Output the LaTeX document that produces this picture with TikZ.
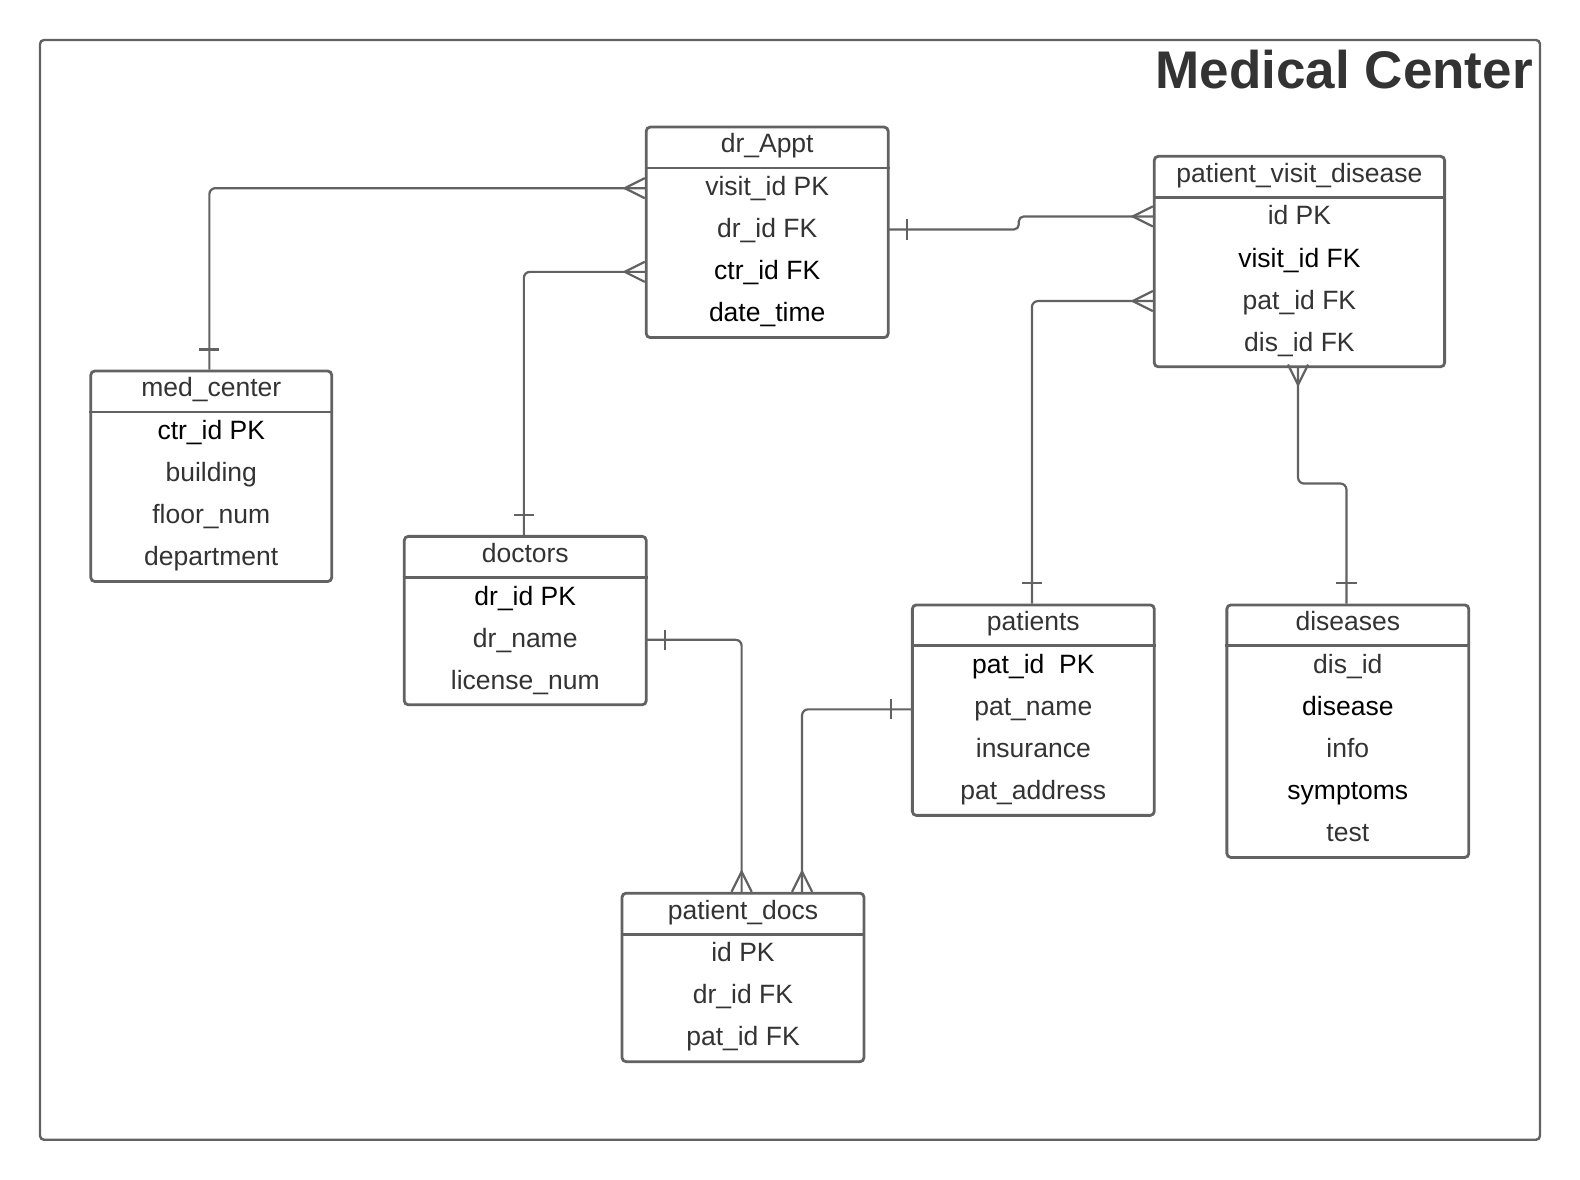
\documentclass[tikz,border=0pt]{standalone}
\usepackage{fontspec}
\setmainfont{Liberation Sans}
\usetikzlibrary{calc}
\definecolor{lg}{HTML}{626262}
\definecolor{tx}{HTML}{333333}
\newcommand\U{1.00806}
\tikzset{
  tbl/.style={draw=lg, line width=2.8bp, rounded corners=4bp, inner sep=0pt, fill=white},
  tblline/.style={draw=lg, line width=2.8bp},
  hdr/.style={anchor=base, inner sep=0pt, text=tx, font=\fontsize{26.6}{31}\selectfont},
  cell/.style={anchor=base, inner sep=0pt, font=\fontsize{26.6}{31}\selectfont},
  conn/.style={draw=lg, line width=2.2bp, rounded corners=6bp},
  frame/.style={draw=lg, line width=2.4bp, rounded corners=4bp},
  crow/.pic={\draw[draw=lg, line width=2.2bp, sharp corners] (0,-10) -- (-20,0) -- (0,10);},
  onebar/.pic={\draw[draw=lg, line width=2.2bp] (-20,-10) -- (-20,10);}
}
% name, x, y, width, title, nrows, rows
\newcommand\erdtable[7]{%
  \node[tbl, minimum width={#4*\U*1bp}, minimum height={(42+41.7*#6)*\U*1bp}, anchor=north west] (#1) at (#2,#3) {};
  \draw[tblline] ([yshift={-42*\U*1bp}]#1.north west) -- ([yshift={-42*\U*1bp}]#1.north east);
  \node[hdr] at ([yshift={-27*\U*1bp}]#1.north) {#5};
  \foreach \c/\t [count=\k from 0] in {#7} {
    \node[cell, text=\c] at ([yshift={-(69.5+41.7*\k)*\U*1bp}]#1.north) {\t};
  }%
}
\begin{document}
\begin{tikzpicture}[x=\U bp, y=-\U bp]
\useasboundingbox (0bp,0bp) rectangle (1580bp,-1180bp);
\begin{scope}[shift={(-0.32bp,0.32bp)}]
\draw[frame] (40,40) rectangle (1528,1131);
\node[anchor=base east, inner sep=0pt, text=tx, font=\fontsize{53.2}{60}\selectfont\bfseries] (title) at (1521,88) {Medical Center};

% connection points
\coordinate (c1a) at (208,367);
\coordinate (c1b) at (640,187);
\coordinate (c2a) at (520,531);
\coordinate (c2b) at (640,270);
\coordinate (c3a) at (880,228);
\coordinate (c3b) at (1144,215);
\coordinate (c4a) at (1024,599);
\coordinate (c4b) at (1144,299);
\coordinate (c5a) at (1288,362);
\coordinate (c5b) at (1336,599);
\coordinate (c6a) at (640,635);
\coordinate (c6b) at (736,885);
\coordinate (c7a) at (904,704);
\coordinate (c7b) at (796,885);

\draw[conn] (c1a) |- (c1b);
\draw[conn] (c2a) |- (c2b);
\draw[conn, rounded corners=5bp] (c3a) -- (1011,228) -- (1011,215) -- (c3b);
\draw[conn] (c4a) |- (c4b);
\draw[conn] (c5a) -- (1288,480) -- (1336,480) -- (c5b);
\draw[conn] (c6a) -| (c6b);
\draw[conn] (c7a) -| (c7b);

\erdtable{appt}{640}{125}{240}{dr\_Appt}{4}{tx/visit\_id PK, tx/dr\_id FK, black/ctr\_id FK, black/date\_time}
\erdtable{pvd}{1144}{154}{288}{patient\_visit\_disease}{4}{tx/id PK, black/visit\_id FK, tx/pat\_id FK, tx/dis\_id FK}
\erdtable{med}{89}{367}{239}{med\_center}{4}{black/ctr\_id PK, tx/building, tx/floor\_num, tx/department}
\erdtable{docs}{400}{531}{240}{doctors}{3}{black/dr\_id PK, tx/dr\_name, tx/license\_num}
\erdtable{pats}{904}{599}{240}{patients}{4}{black/pat\_id\ \ PK, tx/pat\_name, tx/insurance, tx/pat\_address}
\erdtable{dis}{1216}{599}{240}{diseases}{5}{tx/dis\_id, black/disease, tx/info, black/symptoms, tx/test}
\erdtable{pdocs}{616}{885}{240}{patient\_docs}{3}{tx/id PK, tx/dr\_id FK, tx/pat\_id FK}

% relationship ends
\pic at (c1b) {crow};
\pic[rotate=-90] at (c1a) {onebar};
\pic at (c2b) {crow};
\pic[rotate=-90] at (c2a) {onebar};
\pic[rotate=180] at (c3a) {onebar};
\pic at (c3b) {crow};
\pic at (c4b) {crow};
\pic[rotate=-90] at (c4a) {onebar};
\pic[rotate=90] at (c5a) {crow};
\pic[rotate=-90] at (c5b) {onebar};
\pic[rotate=180] at (c6a) {onebar};
\pic[rotate=-90] at (c6b) {crow};
\pic at (c7a) {onebar};
\pic[rotate=-90] at (c7b) {crow};
\end{scope}
\end{tikzpicture}
\end{document}
